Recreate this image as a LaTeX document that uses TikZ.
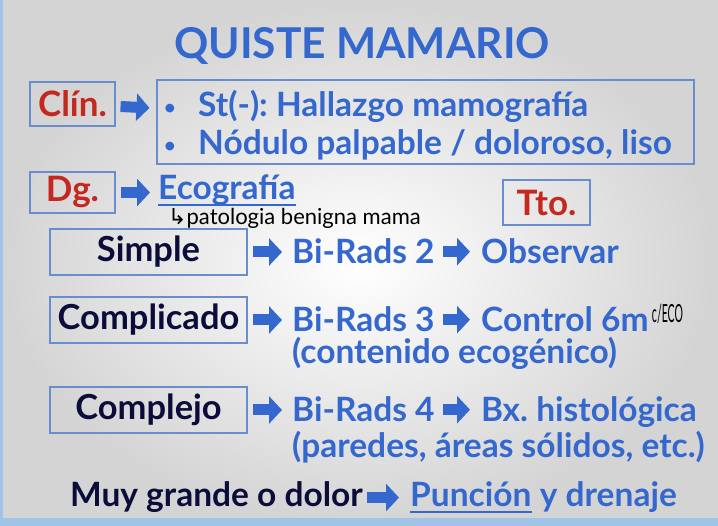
\documentclass[tikz,border=0pt]{standalone}
\usepackage{fontspec}
\setmainfont{Lato}
\newfontfamily\symfont{DejaVu Sans}
\usetikzlibrary{arrows.meta}
\usetikzlibrary{positioning}
\frenchspacing

\definecolor{qblue}{RGB}{52,104,206}
\definecolor{qred}{RGB}{196,40,30}
\definecolor{qnavy}{RGB}{12,12,58}
\definecolor{qframe}{RGB}{104,142,206}
\definecolor{qedge}{RGB}{160,196,232}

\tikzset{
  labelbox/.style={draw=qframe, line width=1.1pt, inner sep=0pt, font=\fontsize{35}{38}\selectfont\bfseries},
  redbox/.style={labelbox, text=qred},
  kindbox/.style={labelbox, text=qnavy, minimum width=197pt, minimum height=46pt, font=\fontsize{34.5}{38}\selectfont\bfseries},
  bluetext/.style={text=qblue, inner sep=0pt, anchor=base west, font=\fontsize{33.5}{38}\selectfont\bfseries},
  hand/.style={text=black, inner sep=0pt, anchor=base west, font=\fontsize{22}{24}\selectfont},
  blockarrow/.style={qblue, line width=11pt, -{Triangle[length=13pt,width=27pt]}},
  uline/.style={qblue, line width=1.6pt}
}
\newcommand{\qbul}{\makebox[34pt][l]{\fontsize{20}{20}\selectfont\raisebox{2pt}{\textbullet}}}

\begin{document}
\begin{tikzpicture}[x=1pt,y=-1pt]
% fondo
\useasboundingbox (0,0) rectangle (718,526);
\shade[inner color=white, outer color=black!17] (0,0) rectangle (718,526);
\fill[qedge] (0,0) rectangle (3,526);
\fill[qedge] (0,518) rectangle (718,526);

\node[text=qblue, font=\fontsize{42.5}{46}\selectfont\bfseries] (title) at (362,46) {QUISTE MAMARIO};

% clinica
\node[redbox, minimum width=85pt, minimum height=44pt] (clin) at (72.5,104) {Clín.};
\node[draw=qframe, line width=1.1pt, minimum width=537pt, minimum height=84pt] (clinbox) at (425.5,122) {};
\node[bluetext] (st) at (164,117) {\qbul St(-): Hallazgo mamografía};
\node[bluetext] (nod) at (164,155) {\qbul Nódulo palpable / doloroso, liso};
\draw[blockarrow, shorten <=5pt, shorten >=7pt] (clin) -- (clinbox);

% diagnostico
\node[redbox, minimum width=85pt, minimum height=41pt] (dg) at (72.5,192.5) {Dg.};
\node[bluetext] (eco) at (158,200) {Ecografía};
\draw[uline] ([yshift=-5pt]eco.base west) -- ([yshift=-5pt]eco.base east);
\draw[blockarrow, shorten <=5pt, shorten >=8pt] (dg) -- (eco.west |- dg);
\node[hand] (note) at (168,225) {{\symfont ↳}patologia benigna mama};
\node[redbox, minimum width=87pt, minimum height=45pt] (tto) at (546.5,202.5) {Tto.};

% simple
\node[kindbox] (simple) at (148.5,252) {Simple};
\node[bluetext] (birads2) at (292,264) {Bi-Rads 2};
\node[bluetext] (obs) at (481,264) {Observar};
\draw[blockarrow, shorten <=5pt, shorten >=10pt] (simple) -- (birads2.west |- simple);
\draw[blockarrow, shorten <=8pt, shorten >=11pt] (birads2.east) -- (obs.west |- birads2.east);

% complicado
\node[kindbox] (compl) at (148.5,320) {Complicado};
\node[bluetext] (birads3) at (292,332) {Bi-Rads 3};
\node[bluetext] (control) at (481,332) {Control 6m};
\node[hand, font=\fontsize{25}{27}\selectfont] (ceco) at ([xshift=3pt, yshift=9pt]control.base east) {\scalebox{0.42}[1]{c/ECO}};
\node[bluetext] (cont) at (292,364) {(contenido ecogénico)};
\draw[blockarrow, shorten <=5pt, shorten >=10pt] (compl) -- (birads3.west |- compl);
\draw[blockarrow, shorten <=8pt, shorten >=11pt] (birads3.east) -- (control.west |- birads3.east);

% complejo
\node[kindbox] (complejo) at (148.5,410) {Complejo};
\node[bluetext] (birads4) at (292,422) {Bi-Rads 4};
\node[bluetext] (bx) at (481,422) {Bx. histológica};
\node[bluetext] (pared) at (292,458) {(paredes, áreas sólidos, etc.)};
\draw[blockarrow, shorten <=5pt, shorten >=10pt] (complejo) -- (birads4.west |- complejo);
\draw[blockarrow, shorten <=8pt, shorten >=11pt] (birads4.east) -- (bx.west |- birads4.east);

% puncion
\node[bluetext, text=qnavy] (muy) at (70,507) {Muy grande o dolor};
\node[bluetext] (punc) at (410,507) {Punción};
\node[bluetext] (dren) at ([xshift=8pt]punc.base east) {y drenaje};
\draw[uline] ([yshift=-5pt]punc.base west) -- ([yshift=-5pt]punc.base east);
\draw[blockarrow, shorten <=4pt, shorten >=11pt] (muy.east) -- (punc.west |- muy.east);
\end{tikzpicture}
\end{document}
